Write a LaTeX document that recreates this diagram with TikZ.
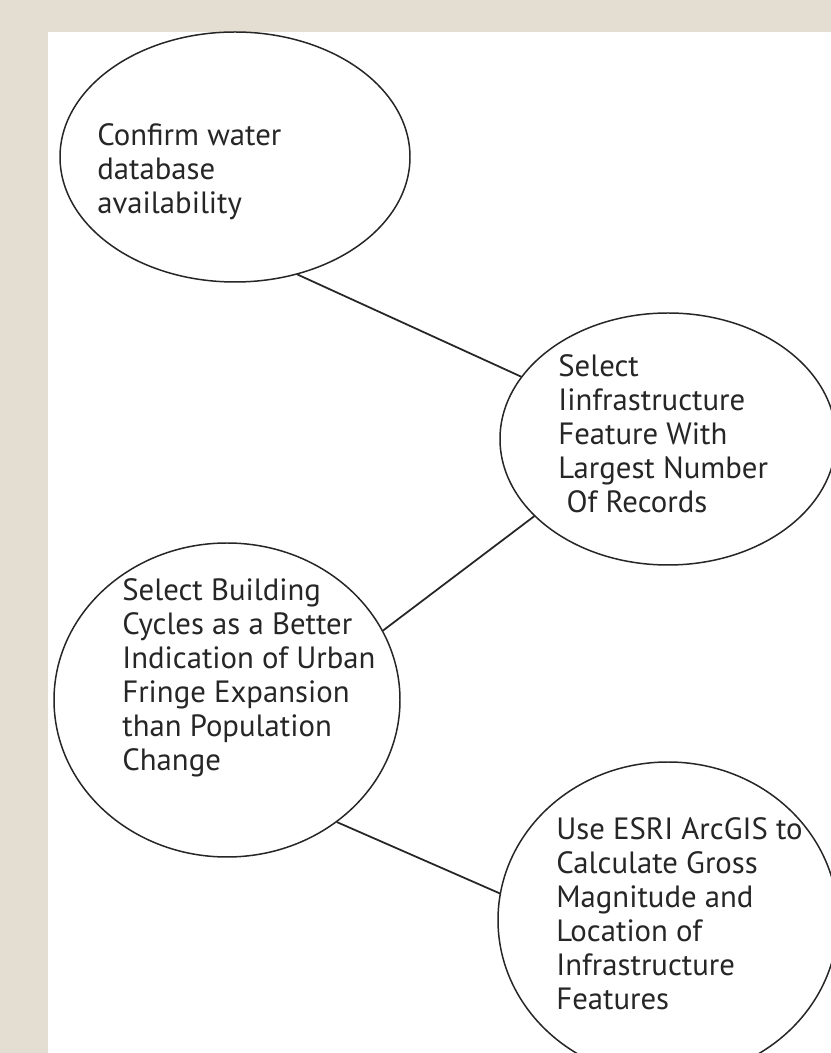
\documentclass[tikz,border=0pt]{standalone}
\usepackage{fontspec}
\setmainfont{PT Sans}
\usepackage{xcolor}
\usepackage{tikz}
\usetikzlibrary{calc,shapes.geometric}
\definecolor{paper}{HTML}{E4DDD1}
\definecolor{ink}{HTML}{262626}
\tikzset{
  StepEllipse/.style={
    draw=ink, line width=0.85pt,
    ellipse, inner sep=0pt
  },
  StepText/.style={
    anchor=north west, inner sep=0pt,
    align=left, text=ink,
    font=\fontsize{17.5}{19.4}\selectfont
  },
  Link/.style={draw=ink, line width=1pt}
}

\begin{document}
\begin{tikzpicture}[line cap=round, line join=round]
  \useasboundingbox (0,0) rectangle (16.62,21.06);
  \clip (0,0) rectangle (16.62,21.06);
  % paper and white sheet
  \fill[paper] (0,0) rectangle (16.62,21.06);
  \fill[white] (0.96,0) rectangle (16.62,20.42);

  \node[StepEllipse, minimum width=7.0cm, minimum height=5.0cm] (C) at (4.70,17.92) {};
  \node[StepEllipse, minimum width=6.72cm, minimum height=5.04cm] (I) at (13.36,12.28) {};
  \node[StepEllipse, minimum width=6.92cm, minimum height=6.28cm] (B) at (4.54,7.06) {};
  \node[StepEllipse, minimum width=6.80cm, minimum height=6.32cm] (G) at (13.36,2.66) {};

  \node[StepText] (Ctext) at (1.94,18.60) {Confirm water\\database\\availability};
  \node[StepText] (Itext) at (11.16,13.98) {Select\\Iinfrastructure\\Feature With\\Largest Number\\\ Of Records};
  \node[StepText] (Btext) at (2.44,9.50) {Select Building\\Cycles as a Better\\Indication of Urban\\Fringe Expansion\\than Population\\Change};
  \node[StepText] (Gtext) at (11.12,4.72) {Use ESRI ArcGIS to\\Calculate Gross\\Magnitude and\\Location of\\Infrastructure\\Features};

  % connectors between the steps
  \draw[Link] (C.-62) -- (I.157);
  \draw[Link] (B.24) -- (I.210);
  \draw[Link] (B.-48) -- (G.171);
\end{tikzpicture}
\end{document}
